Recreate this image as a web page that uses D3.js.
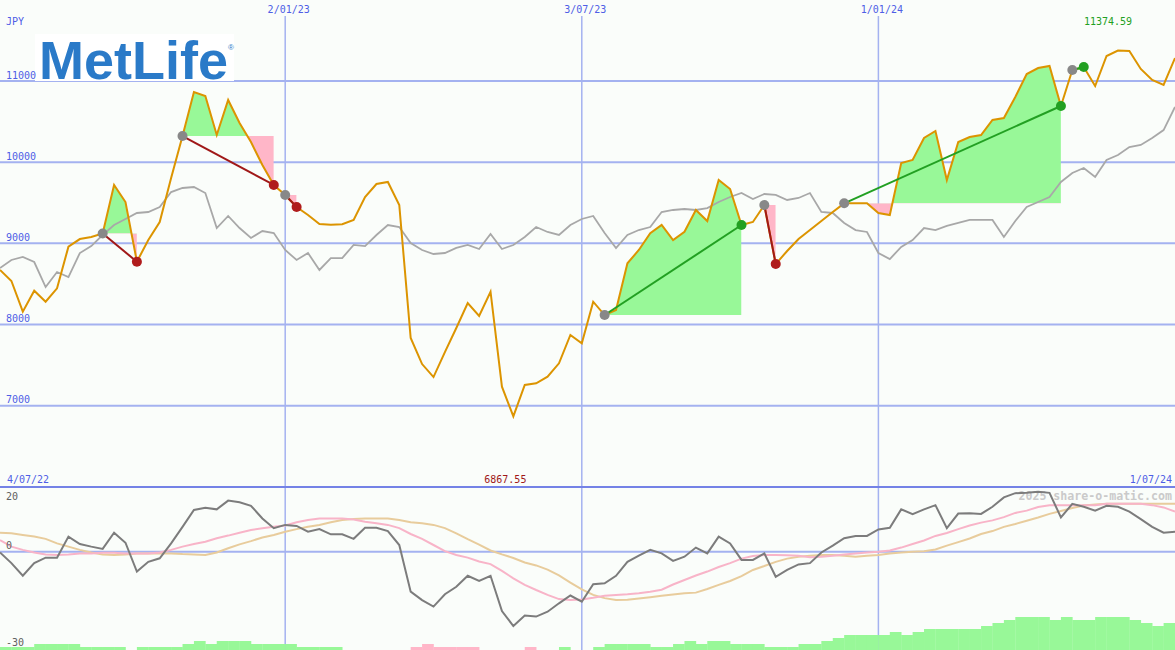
<!DOCTYPE html>
<html><head><meta charset="utf-8">
<script src="https://cdn.jsdelivr.net/npm/d3@7"></script>
<style>html,body{margin:0;padding:0;background:#fafdfa;overflow:hidden}</style>
</head><body>
<svg id="c" width="1175" height="650"></svg>
<script>
// ---- data (weekly closes, JPY) ----
const price = [8672,8536,8158,8417,8281,8446,8959,9053,9078,9121,
  9719,9509,8774,9041,9263,9805,10322,10864,10815,10335,
  10766,10483,10248,9965,9719,9596,9448,9349,9238,9230,
  9235,9288,9571,9731,9756,9472,7834,7513,7353,7661,
  7957,8265,8105,8404,7234,6867.55,7255,7276,7357,7522,
  7871,7768,8281,8117,8179,8754,8918,9124,9226,9041,
  9143,9411,9275,9780,9669,9226,9263,9472,8745,8906,
  9053,9164,9275,9386,9493,9495,9493,9374,9349,9990,
  10027,10298,10384,9780,10248,10310,10335,10520,10544,10803,
  11086,11160,11185,10692,11136,11172,10938,11308,11374.59,11370,
  11148,11012,10951,11283];
const benchmark = [8696,8795,8832,8770,8462,8647,8585,8881,8967,9103,
  9226,9300,9374,9386,9448,9632,9682,9694,9620,9189,
  9337,9189,9066,9152,9127,8918,8795,8881,8672,8819,
  8819,8980,8967,9103,9226,9201,9004,8918,8869,8881,
  8943,8980,8930,9115,8930,8980,9078,9201,9140,9103,
  9226,9300,9337,9127,8943,9103,9164,9201,9386,9411,
  9423,9411,9435,9509,9571,9620,9546,9608,9596,9534,
  9559,9620,9386,9374,9251,9164,9140,8881,8807,8955,
  9041,9189,9164,9214,9251,9288,9288,9288,9078,9275,
  9448,9509,9571,9756,9867,9928,9817,10027,10088,10187,
  10212,10298,10396,10680];
const momentum = [-0.2,-3.5,-7.4,-3.5,-1.8,-1.8,4.7,2.4,1.6,0.9,
  5.9,2.8,-6.1,-3.1,-2.0,2.6,7.7,12.9,13.6,13.1,
  15.8,15.3,14.2,10.3,7.3,8.3,8.0,6.2,7.0,5.4,
  5.4,4.0,7.4,7.4,6.4,2.1,-12.3,-14.9,-16.9,-13.1,
  -10.8,-7.4,-9.0,-7.4,-18.3,-22.9,-19.7,-20.0,-18.5,-15.9,
  -13.5,-15.4,-10.0,-9.7,-7.4,-3.1,-1.2,0.6,-0.5,-2.8,
  -1.5,1.3,-0.5,4.7,2.6,-2.5,-2.5,-0.5,-7.7,-5.6,
  -3.9,-3.5,-0.2,1.9,4.2,4.9,4.9,6.9,7.4,13.1,
  11.6,13.1,14.4,7.3,11.8,11.9,11.7,13.9,16.8,18.1,
  18.2,18.5,18.2,10.6,14.8,13.9,12.7,14.2,13.9,12.4,
  10.1,7.7,5.9,6.2];
const maFast = [3.6,1.6,0.6,-0.2,-0.8,-1.0,-0.8,-0.5,-0.5,-0.3,
  -0.3,-0.5,-0.5,-0.5,-0.2,0.6,1.6,2.4,3.1,4.2,
  5.0,5.9,6.7,7.3,7.7,8.1,9.1,9.8,10.3,10.3,
  10.3,10.0,9.3,8.8,8.3,7.3,5.5,4.0,2.1,0.2,
  -1.0,-1.8,-3.0,-3.8,-5.9,-8.2,-10.2,-11.8,-13.3,-14.6,
  -14.9,-14.7,-14.2,-13.6,-13.3,-13.1,-12.8,-12.3,-11.7,-10.1,
  -8.7,-7.3,-6.1,-4.7,-3.5,-2.1,-1.3,-1.0,-1.0,-1.1,
  -1.2,-1.7,-1.5,-1.2,-0.8,-0.5,-0.2,0.0,0.4,1.3,
  2.4,3.5,4.9,5.8,7.0,8.1,9.0,9.7,10.7,12.0,
  12.7,13.8,14.4,14.4,14.4,14.4,14.4,14.8,14.8,14.8,
  14.8,14.4,13.7,12.4];
const maSlow = [5.9,5.7,5.2,4.7,4.0,2.6,1.6,0.6,-0.2,-0.8,
  -1.0,-0.8,-0.5,-0.5,-0.5,-0.5,-0.7,-0.8,-1.0,-0.2,
  1.1,2.3,3.3,4.4,5.2,6.2,7.0,7.7,8.3,9.1,
  9.8,10.1,10.3,10.3,10.3,9.8,9.1,8.8,8.3,7.3,
  5.7,3.9,2.2,0.4,-0.8,-1.9,-3.3,-4.2,-5.5,-7.3,
  -9.5,-11.6,-13.3,-14.3,-14.9,-14.8,-14.4,-14.0,-13.6,-13.2,
  -12.8,-12.6,-11.5,-10.2,-9.0,-7.5,-5.6,-4.4,-3.1,-2.1,
  -1.5,-1.2,-1.0,-1.0,-1.2,-1.5,-1.2,-1.0,-0.5,-0.2,
  0.0,0.2,0.7,1.9,3.0,4.1,5.5,6.4,7.7,8.6,
  9.6,10.6,11.7,12.6,13.5,14.3,14.6,14.8,14.8,14.8,
  14.8,14.8,14.8,14.8];
const strength = [1,1,1,2,2,2,2,1,1,1,1,0,1,1,1,1,2,3,2,3,3,3,2,2,2,2,1,1,1,1,
  0,0,0,0,0,0,-1,-2,-1,-1,-1,-1,0,0,0,0,-1,0,0,1,0,0,1,2,2,2,2,1,1,2,
  3,2,3,3,2,2,2,1,1,1,2,2,3,4,5,5,5,5,6,5,6,7,7,7,7,7,8,9,10,11,
  11,11,10,11,10,10,11,11,11,10,9,8,9];
const signalStart = [9,16,25,53,67,74,94];
const signalEnd = [12,24,26,65,68,93,95];
const priceTicks = [11000,10000,9000,8000,7000];
const dateTicks = ["2023-01-02","2023-07-03","2024-01-01"];
const dateTickLabels = ["2/01/23","3/07/23","1/01/24"];
const lowerTicks = [20,0,-30];
const rangeLabels = ["4/07/22","1/07/24"];
const currency = "JPY";

// ---- scales ----
const svg = d3.select('#c');
const W = 1175, H = 650;
svg.append('rect').attr('width',W).attr('height',H).attr('fill','#fafdfa');
const start = new Date(2022,6,11);
const dates = d3.range(price.length).map(i => d3.timeDay.offset(start, 7*i));
const x = d3.scaleTime().domain([dates[0], dates[dates.length-1]]).range([0, W]);
const y = d3.scaleLinear().domain([7000, 11000]).range([405.7, 81]);
const y2 = d3.scaleLinear().domain([-30, 20]).range([649, 487]);
const yb = d3.scaleLinear().domain([0, 11]).range([650, 617]);
const parse = d3.timeParse("%Y-%m-%d");
const FONT = "'DejaVu Sans Mono', monospace";
const BLUE = "#4e5ee6", GRID = "#a4b2f0";

// ---- grid ----
const grid = svg.append('g');
grid.selectAll('line.h').data(priceTicks).join('line')
  .attr('x1',0).attr('x2',W).attr('y1',d=>y(d)).attr('y2',d=>y(d))
  .attr('stroke',GRID).attr('stroke-width',2);
grid.selectAll('line.v').data(dateTicks).join('line')
  .attr('x1',d=>x(parse(d))).attr('x2',d=>x(parse(d))).attr('y1',16).attr('y2',H)
  .attr('stroke',GRID).attr('stroke-width',1.5);
grid.append('line').attr('x1',0).attr('x2',W).attr('y1',y2(20)).attr('y2',y2(20))
  .attr('stroke','#7482e6').attr('stroke-width',2);
grid.append('line').attr('x1',0).attr('x2',W).attr('y1',y2(0)).attr('y2',y2(0))
  .attr('stroke',GRID).attr('stroke-width',2);

// ---- logo ----
svg.append('rect').attr('x',35).attr('y',34).attr('width',199).attr('height',47).attr('fill','#ffffff');
svg.append('text').attr('x',39).attr('y',79).text('MetLife')
  .attr('font-family',"'Liberation Sans', Arial, sans-serif").attr('font-weight','bold')
  .attr('font-size',54).attr('fill','#2a7ac8').attr('letter-spacing',0);
svg.append('text').attr('x',228).attr('y',50).text('®')
  .attr('font-family',"'Liberation Sans', Arial, sans-serif").attr('font-size',8).attr('fill','#2a7ac8');

// ---- watermark ----
svg.append('text').attr('x',1172).attr('y',500).attr('text-anchor','end')
  .text('2025 share-o-matic.com').attr('font-family',FONT).attr('font-weight','bold')
  .attr('font-size',11.6).attr('fill','#cacaca');

// ---- strength bars ----
svg.append('g').selectAll('rect').data(strength).join('rect')
  .attr('x',(d,i)=>x(dates[i])).attr('width',(d,i)=>x(dates[i+1])-x(dates[i])+0.3)
  .attr('y',d=>yb(Math.abs(d))).attr('height',d=>yb(0)-yb(Math.abs(d)))
  .attr('fill',d=>d>=0?'#98f898':'#ffb6c8');

// ---- lower lines ----
const lineL = arr => d3.line().x((d,i)=>x(dates[i])).y(d=>y2(d))(arr);
svg.append('path').attr('d',lineL(maSlow)).attr('fill','none').attr('stroke','#e8cc9c').attr('stroke-width',2);
svg.append('path').attr('d',lineL(maFast)).attr('fill','none').attr('stroke','#f8b4c8').attr('stroke-width',2);
svg.append('path').attr('d',lineL(momentum)).attr('fill','none').attr('stroke','#7c7c7c').attr('stroke-width',2);

// ---- signal fills ----
const defs = svg.append('defs');
const fills = svg.append('g');
signalStart.forEach((a,j) => {
  const b = signalEnd[j];
  const lvl = price[a];
  const idx = d3.range(a, b+1);
  const area = d3.area().x(i=>x(dates[i])).y0(y(lvl)).y1(i=>y(price[i]));
  const x0 = x(dates[a]), x1 = x(dates[b]);
  defs.append('clipPath').attr('id','up'+j).append('rect')
    .attr('x',x0).attr('y',0).attr('width',x1-x0).attr('height',y(lvl));
  defs.append('clipPath').attr('id','dn'+j).append('rect')
    .attr('x',x0).attr('y',y(lvl)).attr('width',x1-x0).attr('height',H-y(lvl));
  fills.append('path').attr('d',area(idx)).attr('fill','#98f898').attr('clip-path',`url(#up${j})`);
  fills.append('path').attr('d',area(idx)).attr('fill','#ffb6c8').attr('clip-path',`url(#dn${j})`);
});

// ---- price lines ----
const lineP = arr => d3.line().x((d,i)=>x(dates[i])).y(d=>y(d))(arr);
svg.append('path').attr('d',lineP(benchmark)).attr('fill','none').attr('stroke','#a8a8a8').attr('stroke-width',1.8);
svg.append('path').attr('d',lineP(price)).attr('fill','none').attr('stroke','#dc9400').attr('stroke-width',2);

// ---- signal lines & markers ----
const sig = svg.append('g');
signalStart.forEach((a,j) => {
  const b = signalEnd[j];
  const gain = price[b] >= price[a];
  const col = gain ? '#22a022' : '#a01818';
  sig.append('line').attr('x1',x(dates[a])).attr('y1',y(price[a]))
    .attr('x2',x(dates[b])).attr('y2',y(price[b])).attr('stroke',col).attr('stroke-width',2);
});
signalStart.forEach((a,j) => {
  const b = signalEnd[j];
  const gain = price[b] >= price[a];
  sig.append('circle').attr('cx',x(dates[a])).attr('cy',y(price[a])).attr('r',5).attr('fill','#888888');
  sig.append('circle').attr('cx',x(dates[b])).attr('cy',y(price[b])).attr('r',5).attr('fill',gain?'#22a022':'#b01c1c');
});

// ---- texts ----
const txt = svg.append('g').attr('font-family',FONT).attr('font-size',10);
txt.append('text').attr('x',6).attr('y',24.5).attr('fill',BLUE).text(currency);
txt.selectAll('text.pt').data(priceTicks).join('text').attr('class','pt')
  .attr('x',6).attr('y',d=>y(d)-2.5).attr('fill',BLUE).text(d=>d);
txt.selectAll('text.dt').data(dateTicks).join('text').attr('class','dt')
  .attr('x',d=>x(parse(d))+3.5).attr('y',13).attr('text-anchor','middle').attr('fill',BLUE)
  .text((d,i)=>dateTickLabels[i]);
txt.append('text').attr('x',7).attr('y',483).attr('fill',BLUE).text(rangeLabels[0]);
txt.append('text').attr('x',1172).attr('y',483).attr('text-anchor','end').attr('fill',BLUE).text(rangeLabels[1]);
const lowerLabelY = [500, 548.5, 645.5];
txt.selectAll('text.lt').data(lowerTicks).join('text').attr('class','lt')
  .attr('x',6).attr('y',(d,i)=>lowerLabelY[i]).attr('fill','#606060').text(d=>d);
const iMax = d3.maxIndex(price), iMin = d3.minIndex(price);
txt.append('text').attr('x',x(dates[iMax])-10).attr('y',25).attr('text-anchor','middle')
  .attr('fill','#22a022').text(price[iMax].toFixed(2));
txt.append('text').attr('x',x(dates[iMin])-8).attr('y',482.5).attr('text-anchor','middle')
  .attr('fill','#a01818').text(price[iMin].toFixed(2));
</script>
</body></html>
